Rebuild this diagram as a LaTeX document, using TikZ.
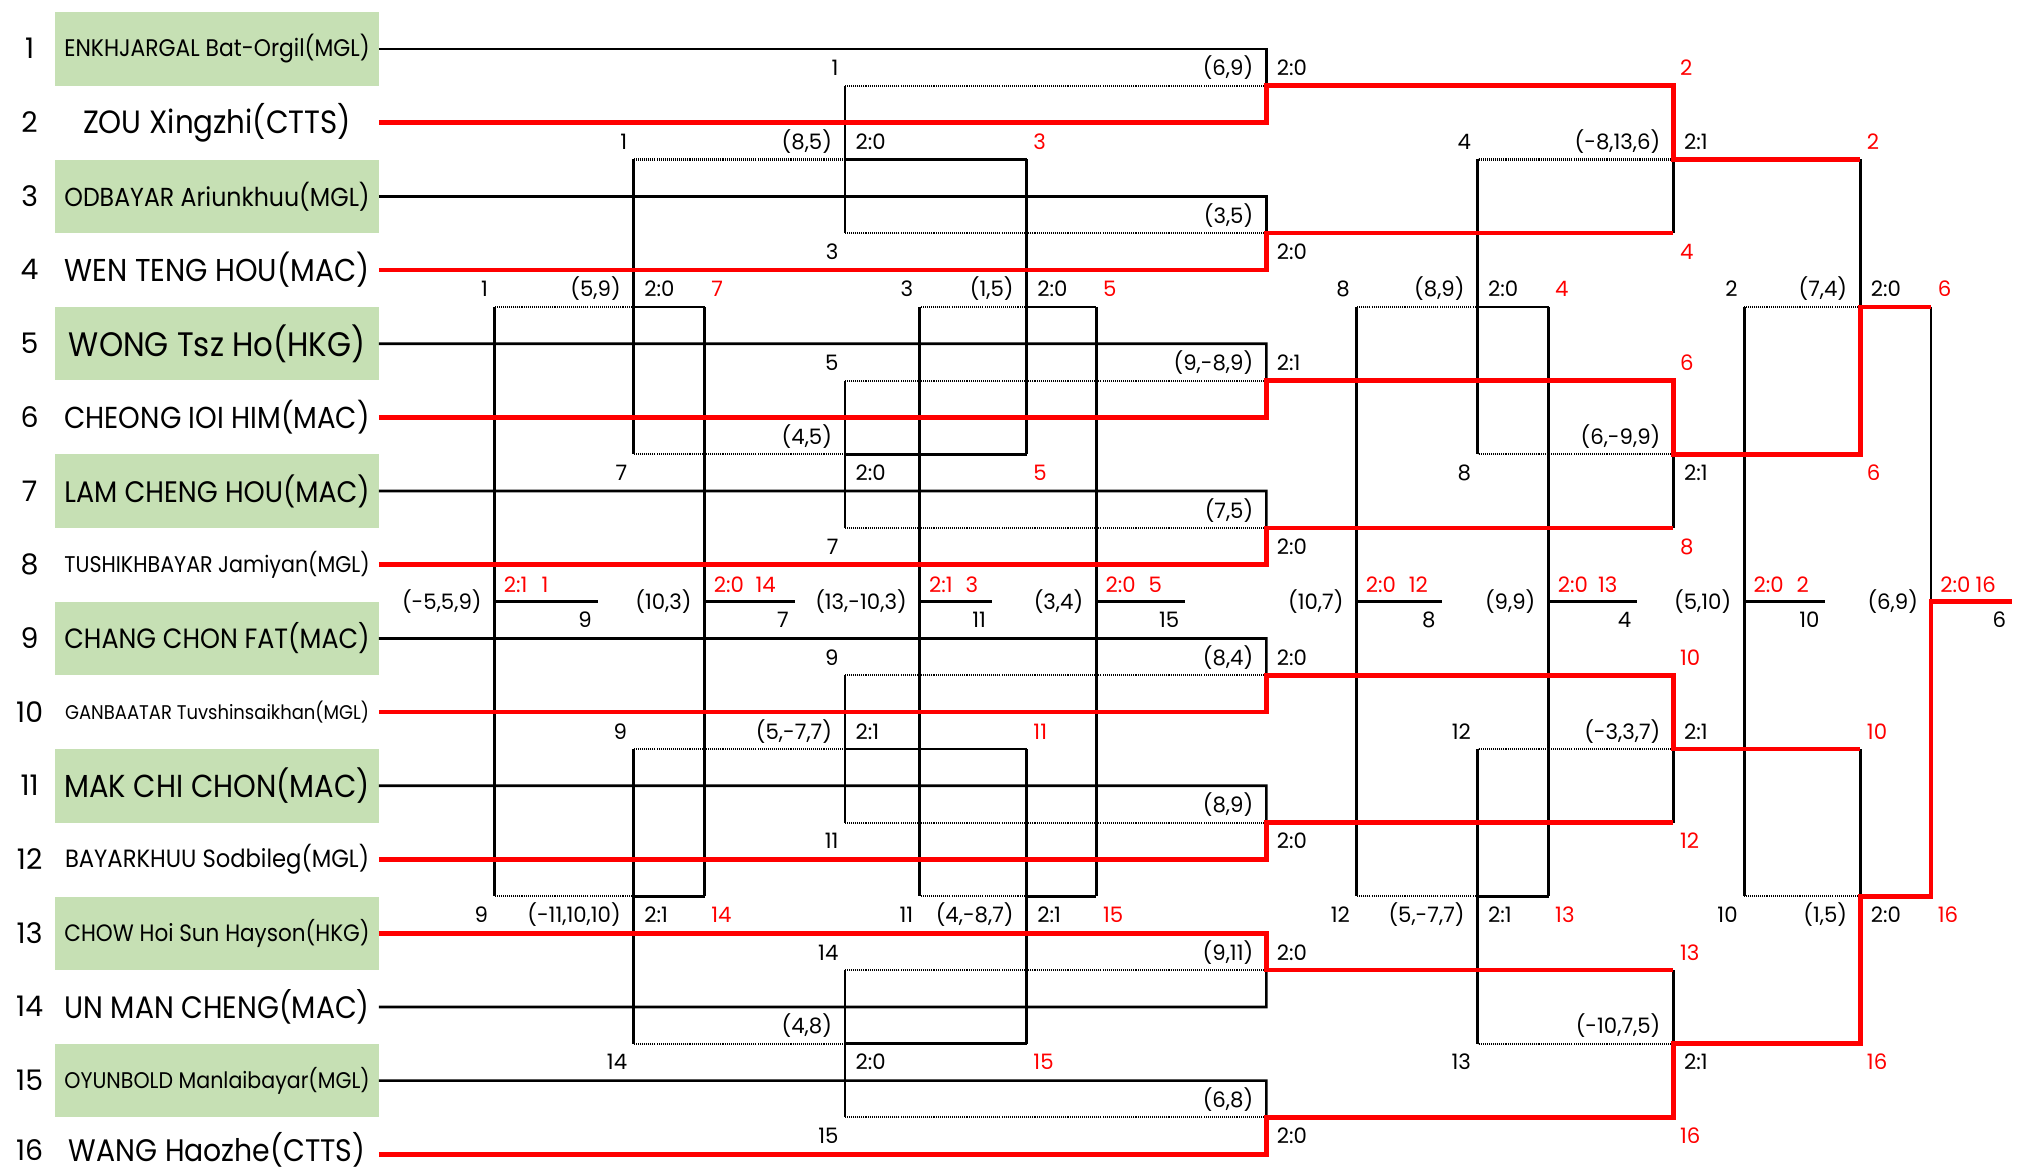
\documentclass[tikz,border=0pt]{standalone}
\usepackage{fontspec}
\setmainfont{Poppins}
\usepackage{graphicx}
\definecolor{gbox}{HTML}{C6E0B4}
\definecolor{rd}{HTML}{FF0000}
\newcommand\nm[2]{\scalebox{1}[1.1]{\resizebox{#1pt}{!}{\fontsize{23}{23}\selectfont #2}}}
\begin{document}
\begin{tikzpicture}[x=1pt,y=-1pt,
  blk/.style={line width=2.1pt,black,line join=miter},
  win/.style={line width=3.6pt,rd,line join=miter},
  lose/.style={line width=1.6pt,black,dash pattern=on 0.8pt off 0.8pt},
  pbox/.style={minimum width=251pt,minimum height=57pt,inner sep=0pt,outer sep=0pt},
  rnum/.style={font=\fontsize{22}{22}\selectfont,inner sep=0pt,anchor=base},
  sc/.style={font=\fontsize{16.5}{16.5}\selectfont,inner sep=0pt},
  sE/.style={sc,anchor=base east},
  sW/.style={sc,anchor=base west},
  rW/.style={sc,text=rd,anchor=base west},
]
\useasboundingbox (0,0) rectangle (1568,907);

% players
\node[pbox,fill=gbox] (p1) at (168.5,38) {\nm{237}{ENKHJARGAL Bat-Orgil(MGL)}};
\node[pbox] (p2) at (168.5,95.2) {\nm{208}{ZOU Xingzhi(CTTS)}};
\node[pbox,fill=gbox] (p3) at (168.5,152.4) {\nm{237}{ODBAYAR Ariunkhuu(MGL)}};
\node[pbox] (p4) at (168.5,209.6) {\nm{237}{WEN TENG HOU(MAC)}};
\node[pbox,fill=gbox] (p5) at (168.5,266.8) {\nm{230}{WONG Tsz Ho(HKG)}};
\node[pbox] (p6) at (168.5,324) {\nm{237}{CHEONG IOI HIM(MAC)}};
\node[pbox,fill=gbox] (p7) at (168.5,381.2) {\nm{237}{LAM CHENG HOU(MAC)}};
\node[pbox] (p8) at (168.5,438.4) {\nm{237}{TUSHIKHBAYAR Jamiyan(MGL)}};
\node[pbox,fill=gbox] (p9) at (168.5,495.6) {\nm{237}{CHANG CHON FAT(MAC)}};
\node[pbox] (p10) at (168.5,552.8) {\nm{236}{GANBAATAR Tuvshinsaikhan(MGL)}};
\node[pbox,fill=gbox] (p11) at (168.5,610) {\nm{237}{MAK CHI CHON(MAC)}};
\node[pbox] (p12) at (168.5,667.2) {\nm{236}{BAYARKHUU Sodbileg(MGL)}};
\node[pbox,fill=gbox] (p13) at (168.5,724.4) {\nm{237}{CHOW Hoi Sun Hayson(HKG)}};
\node[pbox] (p14) at (168.5,781.6) {\nm{237}{UN MAN CHENG(MAC)}};
\node[pbox,fill=gbox] (p15) at (168.5,838.8) {\nm{237}{OYUNBOLD Manlaibayar(MGL)}};
\node[pbox,minimum height=0pt] (p16) at (168.5,892.5) {\nm{230}{WANG Haozhe(CTTS)}};

% seed numbers
\foreach \k in {1,...,15} \node[rnum] (k\k) at (23,{45.7+(\k-1)*57.2}) {\k};
\node[rnum] (k16) at (23,900.5) {16};

% dotted loser lines
\foreach \m in {66.6,181,295.4,409.8,524.2,638.6,753,867.4} \draw[lose] (983,\m) -- (656,\m);
\foreach \n in {123.8,352.6,581.4,810.2} {\draw[lose] (656,\n) -- (492,\n); \draw[lose] (1299,\n) -- (1147,\n);}
\foreach \q in {238.2,695.8} {\draw[lose] (797,\q) -- (714,\q); \draw[lose] (492,\q) -- (384,\q);
  \draw[lose] (1147,\q) -- (1053,\q); \draw[lose] (1444,\q) -- (1354,\q);}

% black lines
\foreach \k/\m in {1/66.6,3/181,5/295.4,7/409.8,9/524.2,11/638.6,14/753,15/867.4}
  \draw[blk] (p\k.east) -- (983,{38+(\k-1)*57.2}) -- (983,\m);
\foreach \a/\b in {66.6/181,295.4/409.8,524.2/638.6,753/867.4} \draw[blk] (656,\a) -- (656,\b);
\foreach \n in {123.8,352.6,581.4,810.2} \draw[blk] (656,\n) -- (797,\n);
\foreach \a/\b in {123.8/352.6,581.4/810.2} {\draw[blk] (797,\a) -- (797,\b); \draw[blk] (492,\a) -- (492,\b); \draw[blk] (1147,\a) -- (1147,\b);}
\foreach \q in {238.2,695.8} {\draw[blk] (797,\q) -- (851,\q); \draw[blk] (492,\q) -- (547,\q); \draw[blk] (1147,\q) -- (1202,\q);}
\foreach \x/\e in {384/464,547/617,714/770,851/920,1053/1119,1202/1271,1354/1417}
  {\draw[blk] (\x,238.2) -- (\x,695.8); \draw[blk] (\x,467) -- (\e,467);}
\draw[blk] (1299,123.8) -- (1299,181);
\draw[blk] (1299,352.6) -- (1299,409.8);
\draw[blk] (1299,581.4) -- (1299,638.6);
\draw[blk] (1299,753) -- (1299,810.2);
\draw[blk] (1444,123.8) -- (1444,238.2);
\draw[blk] (1444,581.4) -- (1444,695.8);
\draw[blk] (1499,238.2) -- (1499,467);

% red winner paths
\draw[win] (p2.east) -- (983,95.2) -- (983,66.6) -- (1299,66.6) -- (1299,123.8) -- (1444,123.8);
\draw[win] (p4.east) -- (983,209.6) -- (983,181) -- (1299,181);
\draw[win] (p6.east) -- (983,324) -- (983,295.4) -- (1299,295.4) -- (1299,352.6) -- (1444,352.6) -- (1444,238.2) -- (1499,238.2);
\draw[win] (p8.east) -- (983,438.4) -- (983,409.8) -- (1299,409.8);
\draw[win] (p10.east) -- (983,552.8) -- (983,524.2) -- (1299,524.2) -- (1299,581.4) -- (1444,581.4);
\draw[win] (p12.east) -- (983,667.2) -- (983,638.6) -- (1299,638.6);
\draw[win] (p13.east) -- (983,724.4) -- (983,753) -- (1299,753);
\draw[win] (p16.east |- 0,896) -- (983,896) -- (983,867.4) -- (1299,867.4) -- (1299,810.2) -- (1444,810.2) -- (1444,695.8) -- (1499,695.8) -- (1499,467) -- (1562,467);

% round 1 labels
\node[sE] (a1) at (973,58.9) {(6,9)};   \node[sW] (b1) at (991,58.9) {2:0};  \node[sE] (c1) at (651,58.9) {1};  \node[rW] (d1) at (1304,58.9) {2};
\node[sE] (a2) at (973,173.3) {(3,5)};  \node[sW] (b2) at (991,201.3) {2:0}; \node[sE] (c2) at (651,201.3) {3}; \node[rW] (d2) at (1304,201.3) {4};
\node[sE] (a3) at (973,287.7) {(9,-8,9)}; \node[sW] (b3) at (991,287.7) {2:1}; \node[sE] (c3) at (651,287.7) {5}; \node[rW] (d3) at (1304,287.7) {6};
\node[sE] (a4) at (973,402.1) {(7,5)};  \node[sW] (b4) at (991,430.1) {2:0}; \node[sE] (c4) at (651,430.1) {7}; \node[rW] (d4) at (1304,430.1) {8};
\node[sE] (a5) at (973,516.5) {(8,4)};  \node[sW] (b5) at (991,516.5) {2:0}; \node[sE] (c5) at (651,516.5) {9}; \node[rW] (d5) at (1304,516.5) {10};
\node[sE] (a6) at (973,630.9) {(8,9)};  \node[sW] (b6) at (991,658.9) {2:0}; \node[sE] (c6) at (651,658.9) {11}; \node[rW] (d6) at (1304,658.9) {12};
\node[sE] (a7) at (973,745.3) {(9,11)}; \node[sW] (b7) at (991,745.3) {2:0}; \node[sE] (c7) at (651,745.3) {14}; \node[rW] (d7) at (1304,745.3) {13};
\node[sE] (a8) at (973,859.7) {(6,8)};  \node[sW] (b8) at (991,887.7) {2:0}; \node[sE] (c8) at (651,887.7) {15}; \node[rW] (d8) at (1304,887.7) {16};

% repechage 1 labels (x=656)
\node[sE] (e1) at (646,116.1) {(8,5)}; \node[sW] (f1) at (664,116.1) {2:0}; \node[sE] (g1) at (487,116.1) {1}; \node[rW] (h1) at (802,116.1) {3};
\node[sE] (e2) at (646,344.9) {(4,5)}; \node[sW] (f2) at (664,372.9) {2:0}; \node[sE] (g2) at (487,372.9) {7}; \node[rW] (h2) at (802,372.9) {5};
\node[sE] (e3) at (646,573.7) {(5,-7,7)}; \node[sW] (f3) at (664,573.7) {2:1}; \node[sE] (g3) at (487,573.7) {9}; \node[rW] (h3) at (802,573.7) {11};
\node[sE] (e4) at (646,802.5) {(4,8)}; \node[sW] (f4) at (664,830.5) {2:0}; \node[sE] (g4) at (487,830.5) {14}; \node[rW] (h4) at (802,830.5) {15};

% x=797
\node[sE] (i1) at (787,230.5) {(1,5)}; \node[sW] (j1) at (805,230.5) {2:0}; \node[sE] (m1) at (709,230.5) {3}; \node[rW] (o1) at (856,230.5) {5};
\node[sE] (i2) at (787,716.1) {(4,-8,7)}; \node[sW] (j2) at (805,716.1) {2:1}; \node[sE] (m2) at (709,716.1) {11}; \node[rW] (o2) at (856,716.1) {15};
% x=492
\node[sE] (i3) at (482,230.5) {(5,9)}; \node[sW] (j3) at (500,230.5) {2:0}; \node[sE] (m3) at (379,230.5) {1}; \node[rW] (o3) at (552,230.5) {7};
\node[sE] (i4) at (482,716.1) {(-11,10,10)}; \node[sW] (j4) at (500,716.1) {2:1}; \node[sE] (m4) at (379,716.1) {9}; \node[rW] (o4) at (552,716.1) {14};

% round 2 labels (x=1299)
\node[sE] (t1) at (1289,116.1) {(-8,13,6)}; \node[sW] (u1) at (1307,116.1) {2:1}; \node[sE] (v1) at (1142,116.1) {4}; \node[rW] (w1) at (1449,116.1) {2};
\node[sE] (t2) at (1289,344.9) {(6,-9,9)}; \node[sW] (u2) at (1307,372.9) {2:1}; \node[sE] (v2) at (1142,372.9) {8}; \node[rW] (w2) at (1449,372.9) {6};
\node[sE] (t3) at (1289,573.7) {(-3,3,7)}; \node[sW] (u3) at (1307,573.7) {2:1}; \node[sE] (v3) at (1142,573.7) {12}; \node[rW] (w3) at (1449,573.7) {10};
\node[sE] (t4) at (1289,802.5) {(-10,7,5)}; \node[sW] (u4) at (1307,830.5) {2:1}; \node[sE] (v4) at (1142,830.5) {13}; \node[rW] (w4) at (1449,830.5) {16};

% x=1147
\node[sE] (x1) at (1137,230.5) {(8,9)}; \node[sW] (y1) at (1155,230.5) {2:0}; \node[sE] (z1) at (1048,230.5) {8}; \node[rW] (zz1) at (1207,230.5) {4};
\node[sE] (x2) at (1137,716.1) {(5,-7,7)}; \node[sW] (y2) at (1155,716.1) {2:1}; \node[sE] (z2) at (1048,716.1) {12}; \node[rW] (zz2) at (1207,716.1) {13};
% semis x=1444
\node[sE] (x3) at (1434,230.5) {(7,4)}; \node[sW] (y3) at (1452,230.5) {2:0}; \node[sE] (z3) at (1349,230.5) {2}; \node[rW] (zz3) at (1504,230.5) {6};
\node[sE] (x4) at (1434,716.1) {(1,5)}; \node[sW] (y4) at (1452,716.1) {2:0}; \node[sE] (z4) at (1349,716.1) {10}; \node[rW] (zz4) at (1504,716.1) {16};

% placement results
\node[sE] (ra1) at (374,472.8) {(-5,5,9)};   \node[rW] (rb1) at (391,459.8) {2:1\hspace{11pt}1}; \node[sE] (rc1) at (459.5,487) {9};
\node[sE] (ra2) at (537,472.8) {(10,3)};     \node[rW] (rb2) at (554,459.8) {2:0\hspace{9pt}14}; \node[sE] (rc2) at (612.5,487) {7};
\node[sE] (ra3) at (704,472.8) {(13,-10,3)}; \node[rW] (rb3) at (721,459.8) {2:1\hspace{10pt}3}; \node[sE] (rc3) at (765.5,487) {11};
\node[sE] (ra4) at (841,472.8) {(3,4)};      \node[rW] (rb4) at (858,459.8) {2:0\hspace{10pt}5}; \node[sE] (rc4) at (915.5,487) {15};
\node[sE] (ra5) at (1043,472.8) {(10,7)};    \node[rW] (rb5) at (1060,459.8) {2:0\hspace{10pt}12}; \node[sE] (rc5) at (1114.5,487) {8};
\node[sE] (ra6) at (1192,472.8) {(9,9)};     \node[rW] (rb6) at (1209,459.8) {2:0\hspace{8pt}13}; \node[sE] (rc6) at (1266.5,487) {4};
\node[sE] (ra7) at (1344,472.8) {(5,10)};    \node[rW] (rb7) at (1361,459.8) {2:0\hspace{10pt}2}; \node[sE] (rc7) at (1412.5,487) {10};
\node[sE] (ra8) at (1489,472.8) {(6,9)};     \node[rW] (rb8) at (1506,459.8) {2:0\hspace{4pt}16}; \node[sE] (rc8) at (1557.5,487) {6};
\end{tikzpicture}
\end{document}
